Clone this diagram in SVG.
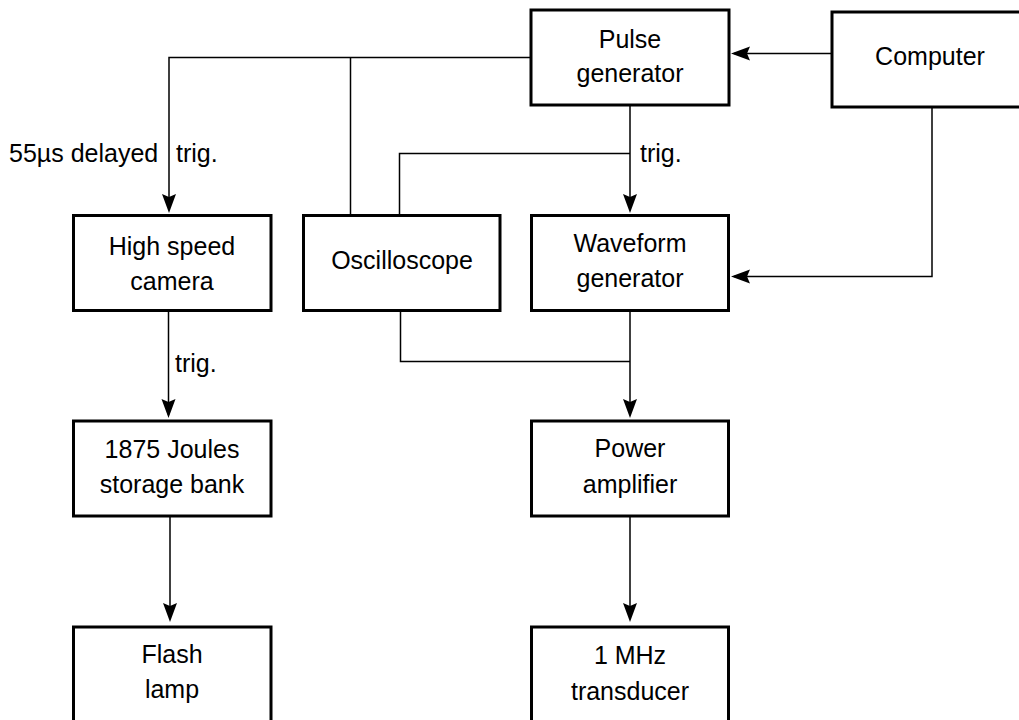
<svg xmlns="http://www.w3.org/2000/svg" width="1019" height="720" viewBox="0 0 1019 720">
  <defs>
    <marker id="arr" markerUnits="userSpaceOnUse" markerWidth="20" markerHeight="16" viewBox="-20 -8 20 16" refX="-3" refY="0" orient="auto">
      <path d="M0,0 L-19,-7 L-16,0 L-19,7 Z" fill="#000"/>
    </marker>
  </defs>
  <style>
    .box { fill: #fff; stroke: #000; stroke-width: 3; }
    .lbl { font-family: "Liberation Sans", Arial, sans-serif; font-size: 25px; fill: #000; text-anchor: middle; }
    .note { font-family: "Liberation Sans", Arial, sans-serif; font-size: 25px; fill: #000; }
    .con { fill: none; stroke: #000; stroke-width: 1.5; }
  </style>
  <rect width="1019" height="720" fill="#fff"/>

  <g id="connectors">
    <path class="con" d="M531,57.5 H169 V210" marker-end="url(#arr)"/>
    <path class="con" d="M350.5,57.5 V215"/>
    <path class="con" d="M399.5,215 V153.5 H630"/>
    <path class="con" d="M630,105 V210" marker-end="url(#arr)"/>
    <path class="con" d="M832,53.5 H734" marker-end="url(#arr)"/>
    <path class="con" d="M932,108 V276.5 H734" marker-end="url(#arr)"/>
    <path class="con" d="M168.5,310 V415" marker-end="url(#arr)"/>
    <path class="con" d="M170,516 V619" marker-end="url(#arr)"/>
    <path class="con" d="M400.5,310 V361.5 H630"/>
    <path class="con" d="M630,310 V415" marker-end="url(#arr)"/>
    <path class="con" d="M630,516 V619" marker-end="url(#arr)"/>
    <text class="note" x="9" y="162">55µs delayed</text>
    <text class="note" x="176" y="162">trig.</text>
    <text class="note" x="640" y="162">trig.</text>
    <text class="note" x="175" y="372">trig.</text>
  </g>

  <g id="pulse-generator">
    <rect class="box" x="531" y="10" width="198" height="95"/>
    <text class="lbl" x="630" y="48">Pulse</text>
    <text class="lbl" x="630" y="82">generator</text>
  </g>
  <g id="computer">
    <rect class="box" x="832" y="12" width="200" height="95"/>
    <text class="lbl" x="930" y="65">Computer</text>
  </g>
  <g id="high-speed-camera">
    <rect class="box" x="73.5" y="215.5" width="197.5" height="95"/>
    <text class="lbl" x="172" y="255">High speed</text>
    <text class="lbl" x="172" y="289.5">camera</text>
  </g>
  <g id="oscilloscope">
    <rect class="box" x="303.5" y="215.5" width="196.5" height="95"/>
    <text class="lbl" x="402" y="269">Oscilloscope</text>
  </g>
  <g id="waveform-generator">
    <rect class="box" x="531.5" y="215.5" width="197" height="95"/>
    <text class="lbl" x="630" y="252">Waveform</text>
    <text class="lbl" x="630" y="287">generator</text>
  </g>
  <g id="storage-bank">
    <rect class="box" x="73.5" y="421" width="197.5" height="95"/>
    <text class="lbl" x="172" y="458">1875 Joules</text>
    <text class="lbl" x="172" y="493">storage bank</text>
  </g>
  <g id="power-amplifier">
    <rect class="box" x="531.5" y="421" width="197" height="95"/>
    <text class="lbl" x="630" y="457">Power</text>
    <text class="lbl" x="630" y="493">amplifier</text>
  </g>
  <g id="flash-lamp">
    <rect class="box" x="73.5" y="627" width="197.5" height="100"/>
    <text class="lbl" x="172" y="663">Flash</text>
    <text class="lbl" x="172" y="698">lamp</text>
  </g>
  <g id="transducer">
    <rect class="box" x="531.5" y="627" width="197" height="100"/>
    <text class="lbl" x="630" y="664">1 MHz</text>
    <text class="lbl" x="630" y="700">transducer</text>
  </g>
</svg>
